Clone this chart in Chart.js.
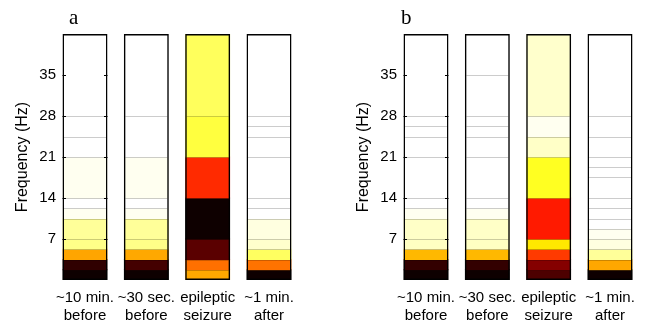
<!DOCTYPE html>
<html>
<head>
<meta charset="utf-8">
<script src="https://cdn.jsdelivr.net/npm/chart.js@4.4.1/dist/chart.umd.min.js"></script>
<style>
  body { margin: 0; background: #fff; width: 647px; height: 326px; position: relative; overflow: hidden; }
  .panel { position: absolute; top: 0; }
  .letter { position: absolute; top: 7px; font: 21px 'Liberation Serif', serif; line-height: 20px; color: #000; }
</style>
</head>
<body>
<div class="panel" style="left:0"><canvas id="chartA" width="306" height="326"></canvas></div>
<div class="panel" style="left:341px"><canvas id="chartB" width="306" height="326"></canvas></div>
<div class="letter" style="left:69px">a</div>
<div class="letter" style="left:401px">b</div>
<script>
const categories = [['~10 min.', 'before'], ['~30 sec.', 'before'], ['epileptic', 'seizure'], ['~1 min.', 'after']]
const freqTicks = [7, 14, 21, 28, 35]
const freqMax = 42

// band edges (Hz) for each state, panel a
const edgesA = [
  [0, 1.75, 3.5, 5.25, 7, 10.5, 12.25, 14, 21, 24.5, 28, 42],
  [0, 1.75, 3.5, 5.25, 7, 10.5, 12.25, 14, 21, 28, 42],
  [0, 1.75, 3.5, 7, 14, 21, 28, 42],
  [0, 1.75, 3.5, 5.25, 7, 10.5, 12.25, 14, 21, 24.5, 26.25, 28, 42]
]
// normalised level of each band (0 = black, 1 = white on the hot colormap), panel a
const levelA = [
  [0.02, 0.07, 0.618, 0.883, 0.9, 0.985, 1, 0.985, 1, 1, 1],
  [0.02, 0.1, 0.622, 0.883, 0.9, 0.985, 1, 0.985, 1, 1],
  [0.622, 0.54, 0.132, 0.02, 0.437, 0.812, 0.84],
  [0.02, 0.544, 0.844, 0.95, 0.97, 1, 1, 1, 1, 1, 1, 1]
]

// panel b
const edgesB = [
  [0, 1.75, 3.5, 5.25, 7, 10.5, 12.25, 14, 21, 24.5, 26.25, 28, 42],
  [0, 1.75, 3.5, 5.25, 7, 10.5, 12.25, 14, 21, 24.5, 26.25, 28, 35, 42],
  [0, 1.75, 3.5, 5.25, 7, 14, 21, 24.5, 28, 42],
  [0, 1.75, 3.5, 5.25, 7, 8.75, 10.5, 12.25, 14, 17.5, 19.25, 21, 24.5, 28, 42]
]
const levelB = [
  [0.02, 0.075, 0.645, 0.94, 0.945, 0.985, 1, 1, 1, 1, 1, 1],
  [0.02, 0.075, 0.645, 0.94, 0.945, 0.985, 1, 1, 1, 1, 1, 1, 1],
  [0.113, 0.196, 0.46, 0.716, 0.413, 0.783, 0.945, 0.985, 0.95],
  [0.02, 0.62, 0.9, 0.97, 0.985, 1, 1, 1, 1, 1, 1, 1, 1, 1]
]

Chart.defaults.font.family = "'Liberation Sans', Arial, sans-serif"
Chart.defaults.color = '#000'

function clamp (v) { return Math.max(0, Math.min(1, v)) }

// matlab style hot colormap
function hot (t) {
  const r = clamp(t / 0.375)
  const g = clamp((t - 0.375) / 0.375)
  const b = clamp((t - 0.75) / 0.25)
  return 'rgb(' + Math.round(r * 255) + ',' + Math.round(g * 255) + ',' + Math.round(b * 255) + ')'
}

// thin grey line on top of every band, plus the little ticks inside the first strip
const stripDecor = {
  id: 'stripDecor',
  afterDatasetsDraw (chart) {
    const ctx = chart.ctx
    const y = chart.scales.y
    const top = y.getPixelForValue(freqMax)
    ctx.save()
    ctx.lineWidth = 1
    ctx.strokeStyle = 'rgba(0,0,0,0.2)'
    chart.data.datasets.forEach(function (ds, i) {
      if (i === 0) return
      chart.getDatasetMeta(i).data.forEach(function (el) {
        if (Math.abs(el.y - top) < 1) return
        const py = Math.round(el.y) + 0.5
        ctx.beginPath()
        ctx.moveTo(el.x - el.width / 2 + 1, py)
        ctx.lineTo(el.x + el.width / 2 - 1, py)
        ctx.stroke()
      })
    })
    const bar = chart.getDatasetMeta(0).data[0]
    const left = bar.x - bar.width / 2
    const right = bar.x + bar.width / 2
    ctx.strokeStyle = '#000'
    freqTicks.forEach(function (t) {
      const py = Math.round(y.getPixelForValue(t)) + 0.5
      ctx.beginPath()
      ctx.moveTo(left, py)
      ctx.lineTo(left + 3.5, py)
      ctx.moveTo(right - 3.5, py)
      ctx.lineTo(right, py)
      ctx.stroke()
    })
    ctx.restore()
  }
}

function makeChart (id, edges, level) {
  const frame = {
    data: categories.map(function (c, i) { return { x: i + 1, y: [0, freqMax] } }),
    backgroundColor: 'rgba(0,0,0,0)',
    borderColor: '#000',
    borderWidth: 1.5,
    barThickness: 45,
    inflateAmount: 0,
    order: 0
  }
  const strips = edges.map(function (e, i) {
    return {
      data: level[i].map(function (p, k) { return { x: i + 1, y: [e[k], e[k + 1]], p: p } }),
      backgroundColor: function (c) { return c.raw ? hot(c.raw.p) : '#fff' },
      borderWidth: 0,
      barThickness: 44,
      inflateAmount: 0.4,
      order: 1
    }
  })

  return new Chart(document.getElementById(id), {
    type: 'bar',
    data: { datasets: [frame].concat(strips) },
    plugins: [stripDecor],
    options: {
      responsive: false,
      animation: false,
      devicePixelRatio: 1,
      layout: { padding: { top: 34, right: 10, left: 0, bottom: 0 } },
      datasets: {
        bar: { grouped: false, borderSkipped: false }
      },
      plugins: { legend: { display: false }, tooltip: { enabled: false } },
      scales: {
        x: {
          type: 'linear',
          min: 0.56,
          max: 4.44,
          offset: false,
          grid: { display: false, drawTicks: false, offset: false },
          border: { display: false },
          afterBuildTicks: function (scale) {
            scale.ticks = categories.map(function (c, i) { return { value: i + 1 } })
          },
          afterFit: function (scale) { scale.height = 46 },
          ticks: {
            autoSkip: false,
            maxRotation: 0,
            padding: 9,
            font: { size: 15, lineHeight: 1.2 },
            callback: function (v) { return categories[Math.round(v) - 1] }
          }
        },
        y: {
          min: 0,
          max: freqMax,
          grid: { display: false, drawTicks: false },
          border: { display: false },
          afterBuildTicks: function (scale) {
            scale.ticks = freqTicks.map(function (t) { return { value: t } })
          },
          afterFit: function (scale) { scale.width = 58 },
          ticks: { padding: 2, font: { size: 15 } },
          title: {
            display: true,
            text: 'Frequency (Hz)',
            font: { size: 16 },
            padding: { top: 13, bottom: 0 }
          }
        }
      }
    }
  })
}

makeChart('chartA', edgesA, levelA)
makeChart('chartB', edgesB, levelB)
</script>
</body>
</html>
